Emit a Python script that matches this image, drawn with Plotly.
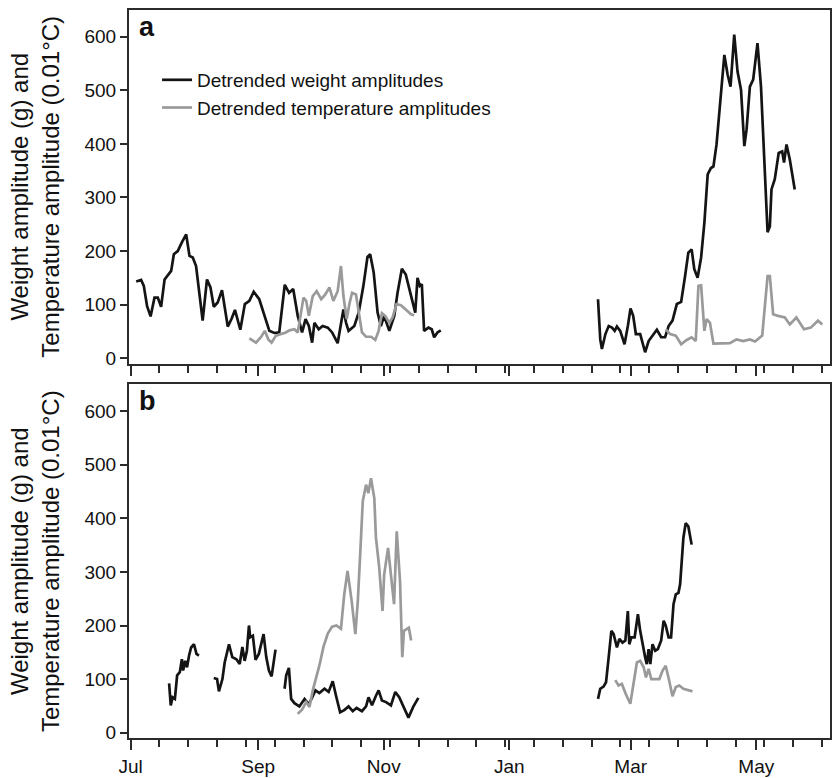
import pandas as pd
import plotly.graph_objects as go
from plotly.subplots import make_subplots

SEASON_START = "2005-07-01"

# ---------------- Panel a ----------------
a_weight_days_1 = [2.7, 5.1, 6.4, 8.0, 9.7, 11.6, 13.2, 14.8, 16.5, 18.1, 19.7, 21.0, 22.9, 24.9, 27.0,
                   28.6, 30.2, 31.8, 33.4, 35.0, 37.1, 38.8, 40.4, 42.3, 44.4, 47.2, 49.1, 50.7, 53.3,
                   55.5, 57.7, 59.8, 62.5, 64.9, 67.4, 69.8, 72.2, 74.9, 77.0, 79.0, 81.2, 83.3, 85.0,
                   86.6, 88.2, 89.3, 91.4, 93.3, 95.8, 97.9, 100.6, 103.4, 104.7, 105.9, 108.7, 110.8,
                   113.1, 115.1, 116.4, 118.1, 120.0, 121.6, 123.2, 125.7, 128.1, 129.7, 131.8, 133.7,
                   136.2, 138.3, 139.4, 140.5, 141.5, 142.6, 144.7, 146.3, 147.5, 149.1, 150.7]
a_weight_vals_1 = [143, 146, 135, 97, 78, 113, 113, 96, 147, 156, 163, 194, 200, 216, 231,
                   191, 188, 172, 116, 70, 147, 132, 96, 104, 127, 59, 74, 90, 53,
                   101, 107, 124, 110, 82, 51, 47, 48, 137, 122, 129, 79, 48, 73,
                   60, 29, 66, 54, 60, 57, 48, 28, 91, 66, 51, 60, 85,
                   135, 189, 194, 160, 85, 60, 79, 51, 79, 122, 167, 156,
                   116, 85, 150, 135, 138, 51, 57, 54, 39, 48, 52]
a_weight_days_2 = [227.1, 228.2, 229.0, 230.7, 232.3, 233.9, 235.2, 236.3, 237.9, 240.0, 241.6, 242.9,
                   244.2, 245.5, 247.6, 250.0, 251.7, 254.1, 255.7, 257.8, 259.7, 261.4, 263.3, 265.4,
                   267.5, 269.4, 271.0, 272.6, 273.9, 275.5, 277.2, 278.8, 280.4, 282.0, 283.2, 284.7,
                   285.9, 287.2, 288.5, 290.1, 291.5, 293.3, 294.9, 296.6, 298.2, 299.3, 300.9, 302.5,
                   304.6, 306.3, 307.9, 309.5, 310.6, 311.4, 313.0, 314.9, 316.6, 317.5, 318.7, 320.3,
                   322.7]
a_weight_vals_2 = [110, 35, 17, 45, 60, 57, 51, 59, 51, 26, 60, 93,
                   79, 45, 45, 11, 32, 45, 53, 39, 39, 60, 70, 101,
                   105, 153, 197, 203, 166, 150, 188, 253, 343, 355, 358, 399,
                   455, 501, 566, 529, 507, 604, 535, 501, 396, 427, 507, 520,
                   588, 507, 358, 235, 246, 315, 334, 383, 386, 365, 399, 371,
                   315]
a_temp_days_1 = [57.7, 60.9, 63.3, 65.2, 66.9, 68.5, 70.6, 73.0, 75.4, 77.2, 79.6, 81.2, 82.4, 84.0,
                 85.3, 86.6, 88.5, 90.4, 92.6, 94.6, 96.6, 98.5, 100.6, 102.2, 103.4, 105.0, 106.3,
                 107.6, 109.5, 110.8, 112.4, 114.4, 116.8, 118.9, 120.5, 122.1, 123.7, 125.7, 127.3,
                 129.2, 131.3, 133.7, 136.2, 137.8]
a_temp_vals_1 = [37, 29, 39, 51, 35, 29, 42, 45, 48, 52, 54, 48, 73, 113,
                 107, 79, 116, 125, 110, 119, 132, 107, 125, 172, 116, 73, 101,
                 122, 119, 88, 48, 40, 40, 34, 51, 84, 79, 66, 76,
                 101, 99, 91, 82, 80]
a_temp_days_2 = [260.0, 262.2, 264.9, 267.5, 270.2, 272.6, 274.6, 275.9, 277.2, 278.8, 279.9, 281.5,
                 283.2, 286.4, 291.2, 294.4, 297.7, 300.9, 303.4, 306.9, 308.2, 309.5, 310.6, 312.2,
                 314.6, 317.9, 320.3, 323.5, 327.2, 330.5, 334.0, 336.1]
a_temp_vals_2 = [54, 45, 42, 26, 34, 39, 32, 135, 136, 51, 73, 66,
                 27, 27, 28, 35, 32, 35, 31, 42, 97, 153, 153, 82,
                 79, 76, 63, 76, 54, 57, 70, 63]

# ---------------- Panel b ----------------
b_weight_days_1 = [18.7, 19.5, 20.4, 21.5, 22.6, 23.9, 24.9, 25.5, 26.5, 27.4, 28.4, 29.4, 30.8, 32.0, 33.2]
b_weight_vals_1 = [92, 51, 66, 63, 107, 113, 137, 116, 134, 122, 144, 159, 165, 147, 144]
b_weight_days_2 = [40.4, 42.0, 42.9, 44.6, 45.7, 47.8, 49.4, 51.4, 53.0, 54.3, 55.4, 56.5, 57.5, 58.1,
                   59.4, 60.7, 62.3, 63.5, 64.6, 65.9, 67.2, 68.5, 69.5, 70.4]
b_weight_vals_2 = [102, 100, 77, 100, 131, 165, 141, 137, 128, 160, 134, 153, 200, 178,
                   181, 136, 147, 165, 184, 141, 116, 105, 128, 155]
b_weight_days_3 = [74.8, 75.6, 76.9, 78.0, 79.6, 82.0, 84.5, 86.6, 88.5, 89.8, 91.7, 94.2, 96.2, 98.2,
                   99.8, 101.8, 103.8, 105.9, 107.9, 109.8, 112.4, 114.4, 115.6, 117.3, 119.2, 120.5,
                   122.1, 124.1, 126.5, 128.6, 130.5, 132.9, 135.0, 137.3, 139.8]
b_weight_vals_3 = [82, 107, 121, 63, 55, 49, 63, 53, 68, 79, 74, 82, 76, 96,
                   69, 38, 42, 49, 40, 46, 40, 49, 66, 51, 69, 79,
                   60, 57, 51, 76, 66, 45, 28, 48, 65]
b_weight_days_4 = [227.1, 228.2, 229.8, 231.0, 232.3, 233.6, 234.7, 236.3, 237.5, 239.0, 240.4, 241.6,
                   242.3, 243.3, 244.9, 246.5, 247.6, 248.7, 250.0, 250.8, 251.7, 252.5, 253.6, 254.9,
                   256.2, 257.8, 259.0, 260.0, 261.4, 262.6, 263.8, 264.9, 266.2, 267.0, 267.8, 268.6,
                   269.7, 271.0, 272.6]
b_weight_vals_4 = [63, 82, 86, 94, 141, 190, 184, 159, 175, 168, 172, 227,
                   165, 178, 178, 221, 190, 165, 141, 128, 156, 128, 165, 153,
                   156, 172, 209, 200, 178, 178, 240, 258, 261, 277, 317, 364,
                   391, 385, 351]
b_temp_days_1 = [81.2, 83.3, 85.3, 86.9, 88.5, 90.2, 91.7, 93.7, 95.8, 97.9, 100.0, 102.2, 103.8,
                 105.4, 107.4, 109.2, 110.4, 111.7, 112.8, 114.4, 115.5, 116.8, 118.4, 119.2, 120.8,
                 122.4, 123.2, 125.1, 126.4, 128.0, 129.3, 130.9, 132.0, 132.8, 135.2, 136.3]
b_temp_vals_1 = [35, 43, 57, 48, 79, 103, 125, 160, 185, 198, 200, 194, 258,
                 302, 246, 184, 246, 345, 432, 463, 447, 475, 438, 364, 308,
                 227, 295, 345, 295, 240, 376, 283, 141, 190, 196, 172]
b_temp_days_2 = [235.5, 237.1, 238.7, 240.6, 242.8, 244.4, 246.0, 247.6, 249.3, 250.4, 251.7, 253.0,
                 254.9, 256.9, 258.5, 260.0, 261.7, 263.3, 264.9, 266.6, 268.6, 271.0, 273.0]
b_temp_vals_2 = [98, 88, 91, 72, 54, 91, 131, 134, 122, 103, 119, 100,
                 100, 100, 116, 125, 97, 68, 85, 88, 82, 80, 77]

# x-axis tick labels (major ticks at month starts)
month_ticks = ["2005-07-01", "2005-09-01", "2005-11-01", "2006-01-01", "2006-03-01", "2006-05-01"]
month_labels = ["Jul", "Sep", "Nov", "Jan", "Mar", "May"]
y_ticks = [0, 100, 200, 300, 400, 500, 600]

start = pd.Timestamp(SEASON_START)


def segments(pairs):
    xs, ys = [], []
    for days, vals in pairs:
        if xs:
            xs.append(None)
            ys.append(None)
        xs.extend(start + pd.to_timedelta(days, unit="D"))
        ys.extend(vals)
    return xs, ys


BLACK = "#141414"
GREY = "#9a9a9a"
FRAME = "#2b2b2b"
FONT = "Liberation Sans, Arial, sans-serif"

fig = make_subplots(rows=2, cols=1, shared_xaxes=False, vertical_spacing=0.0288)

ax, ay = segments([(a_weight_days_1, a_weight_vals_1), (a_weight_days_2, a_weight_vals_2)])
fig.add_trace(go.Scatter(x=ax, y=ay, mode="lines", line=dict(color=BLACK, width=2.7),
                         name="Detrended weight amplitudes", connectgaps=False), row=1, col=1)
tx, ty = segments([(a_temp_days_1, a_temp_vals_1), (a_temp_days_2, a_temp_vals_2)])
fig.add_trace(go.Scatter(x=tx, y=ty, mode="lines", line=dict(color=GREY, width=2.7),
                         name="Detrended temperature amplitudes", connectgaps=False), row=1, col=1)

bx, by = segments([(b_weight_days_1, b_weight_vals_1), (b_weight_days_2, b_weight_vals_2),
                   (b_weight_days_3, b_weight_vals_3), (b_weight_days_4, b_weight_vals_4)])
fig.add_trace(go.Scatter(x=bx, y=by, mode="lines", line=dict(color=BLACK, width=2.7),
                         showlegend=False, connectgaps=False), row=2, col=1)
gx, gy = segments([(b_temp_days_1, b_temp_vals_1), (b_temp_days_2, b_temp_vals_2)])
fig.add_trace(go.Scatter(x=gx, y=gy, mode="lines", line=dict(color=GREY, width=2.7),
                         showlegend=False, connectgaps=False), row=2, col=1)

x_range = ["2005-06-30 05:00", "2006-06-05 20:00"]
for r in (1, 2):
    fig.update_xaxes(row=r, col=1, type="date", range=x_range, showline=True, linecolor=FRAME,
                     linewidth=2, mirror=True, showgrid=False, zeroline=False,
                     tickmode="array", tickvals=month_ticks,
                     ticktext=month_labels if r == 2 else [""] * len(month_labels),
                     ticks="outside", ticklen=10, tickwidth=1.5, tickcolor=FRAME,
                     minor=dict(ticks="outside", ticklen=7, tickwidth=1.5, tickcolor=FRAME,
                                tickmode="linear", tick0=SEASON_START, dtick=14 * 86400000,
                                showgrid=False),
                     tickfont=dict(family=FONT, size=19, color="#111"))
    fig.update_yaxes(row=r, col=1, range=[-10, 650], showline=True, linecolor=FRAME, linewidth=2,
                     mirror=True, showgrid=False, zeroline=False, tickmode="array", tickvals=y_ticks,
                     ticks="outside", ticklen=7, tickwidth=1.5, tickcolor=FRAME,
                     tickfont=dict(family=FONT, size=19, color="#111"),
                     title=dict(text="Weight amplitude (g) and<br>Temperature amplitude (0.01°C)",
                                font=dict(family=FONT, size=24, color="#111"), standoff=18))

fig.update_layout(
    width=833, height=778,
    margin=dict(l=129, r=1, t=10, b=38),
    plot_bgcolor="white", paper_bgcolor="white",
    legend=dict(x=0.04, y=0.93, xanchor="left", yanchor="top", bgcolor="rgba(0,0,0,0)",
                font=dict(family=FONT, size=19, color="#111"), tracegroupgap=0),
    annotations=[
        dict(text="<b>a</b>", xref="x domain", yref="y domain", x=0.012, y=1.0, xanchor="left",
             yanchor="top", showarrow=False, font=dict(family=FONT, size=27, color="#111")),
        dict(text="<b>b</b>", xref="x2 domain", yref="y2 domain", x=0.012, y=1.0, xanchor="left",
             yanchor="top", showarrow=False, font=dict(family=FONT, size=27, color="#111")),
    ],
)

fig.write_html("out.html")
